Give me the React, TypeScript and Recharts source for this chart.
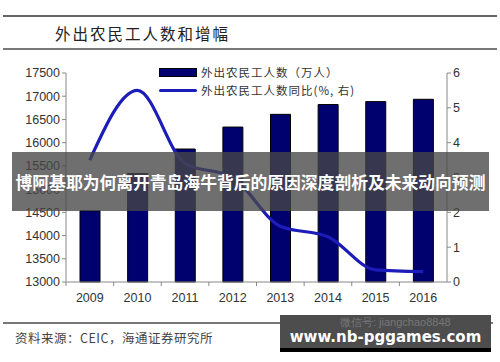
import React from "react";
import { ComposedChart, Bar, Line, XAxis, YAxis } from "recharts";

const years = ["2009", "2010", "2011", "2012", "2013", "2014", "2015", "2016"];
const workers = [14533, 15335, 15863, 16336, 16610, 16821, 16884, 16934];
const growth = [3.5, 5.5, 3.4, 3.0, 1.6, 1.3, 0.35, 0.3];
const leftTicks = [13000, 13500, 14000, 14500, 15000, 15500, 16000, 16500, 17000, 17500];
const rightTicks = [0, 1, 2, 3, 4, 5, 6];
const barName = "外出农民工人数（万人）";
const lineName = "外出农民工人数同比(%, 右)";

const data = years.map((y, i) => ({ year: y, workers: workers[i], growth: growth[i] }));

const tickFont = { fontFamily: "'Liberation Sans', Arial, sans-serif", fontSize: 12.5, fill: "#333" };

const XTick = (props: any) => {
  const { x, y, payload } = props;
  const half = 381 / 8 / 2;
  return (
    <g>
      <line x1={x - half} y1={y - 8} x2={x - half} y2={y - 4} stroke="#888" />
      <text x={x} y={y + 12} textAnchor="middle" {...tickFont}>{payload.value}</text>
    </g>
  );
};

const LegendBox = () => (
  <div style={{ position: "absolute", left: 159, top: 63, fontFamily: "'Noto Sans CJK SC', sans-serif", fontSize: 11.5, color: "#333", letterSpacing: 1 }}>
    <div style={{ display: "flex", alignItems: "center", height: 18 }}>
      <div style={{ width: 36, height: 7, background: "#00006e", border: "1px solid #000", marginRight: 4 }} />
      <span>{barName}</span>
    </div>
    <div style={{ display: "flex", alignItems: "center", height: 18 }}>
      <div style={{ width: 38, height: 3, background: "#1c1cb8", borderRadius: 2, marginRight: 4 }} />
      <span>{lineName}</span>
    </div>
  </div>
);

export default function App() {
  return (
    <div style={{ position: "absolute", left: 0, top: 0, width: 500, height: 362, background: "#fff", overflow: "hidden" }}>
      <div style={{ position: "absolute", left: 3, top: 15, width: 494, height: 1.5, background: "#666" }} />
      <div style={{ position: "absolute", left: 55, top: 22, fontFamily: "'Noto Sans CJK SC', sans-serif", fontSize: 15.5, letterSpacing: 2, color: "#222", lineHeight: "22px" }}>
        外出农民工人数和增幅
      </div>
      <div style={{ position: "absolute", left: 3, top: 48, width: 494, height: 1.5, background: "#777" }} />

      <div style={{ position: "absolute", left: 0, top: 0 }}>
        <ComposedChart width={500} height={362} data={data} margin={{ top: 73, right: 13, bottom: 50, left: 10 }} barCategoryGap={0}>
          <XAxis dataKey="year" height={30} tickLine={false} stroke="#888" tick={<XTick />} />
          <YAxis yAxisId="left" width={56} domain={[13000, 17500]} ticks={leftTicks} stroke="#888" tickSize={4} tick={tickFont} interval={0} />
          <YAxis yAxisId="right" orientation="right" width={40} domain={[0, 6]} ticks={rightTicks} stroke="#888" tickSize={4} tick={tickFont} interval={0} />
          <Bar yAxisId="left" dataKey="workers" name={barName} fill="#00006e" stroke="#000" strokeWidth={1} barSize={20} isAnimationActive={false} />
          <Line yAxisId="right" dataKey="growth" name={lineName} type="monotone" stroke="#1c1cb8" strokeWidth={3.2} dot={false} isAnimationActive={false} />
        </ComposedChart>
      </div>
      <LegendBox />

      <div style={{ position: "absolute", left: 12, top: 152, width: 477, height: 59, background: "rgba(70,70,70,0.78)", display: "flex", alignItems: "center", justifyContent: "center" }}>
        <span style={{ fontFamily: "'Noto Sans CJK SC', sans-serif", fontWeight: 700, fontSize: 16.8, color: "#fff", whiteSpace: "nowrap" }}>
          博阿基耶为何离开青岛海牛背后的原因深度剖析及未来动向预测
        </span>
      </div>

      <div style={{ position: "absolute", left: 3, top: 322, width: 490, height: 1.5, background: "#777" }} />
      <div style={{ position: "absolute", left: 15, top: 328, fontFamily: "'Noto Sans CJK SC', sans-serif", fontSize: 12.5, color: "#444", letterSpacing: 0.5 }}>
        资料来源：CEIC，海通证券研究所
      </div>

      <div style={{ position: "absolute", left: 280, top: 315, width: 211, height: 37, background: "#4d4d4d", overflow: "hidden" }}>
        <div style={{ position: "absolute", left: 0, bottom: 0, width: 211, height: 4, background: "#000" }} />
        <div style={{ position: "absolute", left: 60, top: 0, fontFamily: "'Liberation Sans', sans-serif", fontSize: 11, color: "#777", whiteSpace: "nowrap" }}>
          微信号: jiangchao8848
        </div>
        <div style={{ position: "absolute", left: 0, top: 10, width: 211, textAlign: "center", fontFamily: "'DejaVu Sans', sans-serif", fontWeight: 700, fontSize: 15, color: "#fff", whiteSpace: "nowrap", lineHeight: "24px" }}>
          www.nb-pggames.com
        </div>
      </div>
    </div>
  );
}
